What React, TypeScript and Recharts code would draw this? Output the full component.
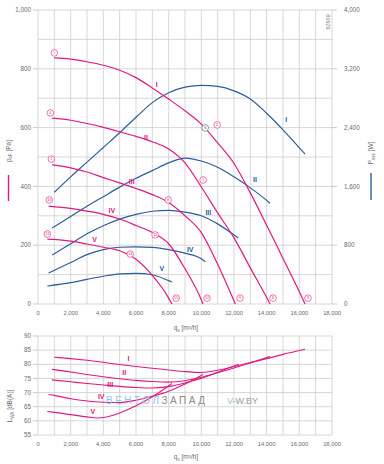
import { ComposedChart, LineChart, Line, XAxis, YAxis, CartesianGrid, ReferenceDot } from "recharts"

const PINK = "#e2187f"
const BLUE = "#2c5d9c"
const GRID = "#cdcdcd"
const TXT = "#6a6a6a"
const FONT = "'Liberation Sans', Arial, sans-serif"

// axis ticks
const flowTicks = [0, 1000, 2000, 3000, 4000, 5000, 6000, 7000, 8000, 9000, 10000, 11000, 12000, 13000, 14000, 15000, 16000, 17000, 18000]
const pressTicks = [0, 100, 200, 300, 400, 500, 600, 700, 800, 900, 1000]
const powerTicks = [0, 400, 800, 1200, 1600, 2000, 2400, 2800, 3200, 3600, 4000]
const soundTicks = [55, 60, 65, 70, 75, 80, 85, 90]

const speeds = ["I", "II", "III", "IV", "V"]

// static pressure p_sF [Pa] over q_v [m3/h]
const pressI = [[1000, 837], [2000, 833], [3000, 824], [4000, 812], [5000, 795], [6000, 770], [7000, 735], [8000, 697], [9000, 657], [10000, 612], [11000, 548], [12000, 478], [13000, 378], [14000, 268], [15000, 155], [16000, 42], [16350, 0]]
const pressII = [[870, 632], [2000, 625], [3000, 614], [4000, 601], [5000, 586], [6000, 570], [7000, 552], [8000, 527], [9000, 480], [10000, 398], [11000, 310], [12000, 225], [13000, 123], [14000, 22], [14210, 0]]
const pressIII = [[870, 473], [2000, 463], [3000, 449], [4000, 430], [5000, 412], [6000, 393], [7000, 372], [8000, 345], [9000, 300], [10000, 243], [11000, 135], [12080, 0]]
const pressIV = [[650, 333], [2000, 325], [3000, 316], [4000, 305], [5000, 289], [6000, 267], [7000, 243], [8000, 205], [9000, 120], [10000, 14], [10100, 0]]
const pressV = [[570, 221], [1000, 220], [2000, 214], [3000, 204], [4000, 193], [5000, 181], [6000, 152], [7000, 97], [8000, 20], [8200, 0]]

// power input P_sys [W]
const powerI = [[1000, 1520], [2000, 1730], [3000, 1930], [4000, 2130], [5000, 2330], [6000, 2540], [7000, 2740], [8000, 2875], [9000, 2950], [10000, 2975], [11000, 2960], [12000, 2900], [13000, 2790], [14000, 2595], [15000, 2370], [16000, 2125], [16350, 2040]]
const powerII = [[870, 1034], [2000, 1190], [3000, 1330], [4000, 1460], [5000, 1590], [6000, 1710], [7000, 1815], [8000, 1920], [9000, 1985], [10000, 1945], [11000, 1860], [12000, 1730], [13000, 1580], [14000, 1410], [14210, 1370]]
const powerIII = [[870, 667], [2000, 820], [3000, 955], [4000, 1065], [5000, 1155], [6000, 1220], [7000, 1262], [8000, 1275], [9000, 1250], [10000, 1200], [11000, 1090], [12000, 940], [12270, 898]]
const powerIV = [[650, 422], [2000, 565], [3000, 672], [4000, 740], [5000, 772], [6000, 778], [7000, 770], [8000, 740], [9000, 692], [10000, 615], [10240, 575]]
const powerV = [[570, 245], [2000, 290], [3000, 335], [4000, 378], [5000, 410], [6000, 418], [7000, 398], [8000, 318], [8200, 300]]

// sound power L_WA [dB(A)]
const soundI = [[1000, 82.5], [2000, 82.0], [3000, 81.4], [4000, 80.7], [5000, 79.9], [6000, 79.2], [7000, 78.6], [8000, 78.0], [9000, 77.4], [10000, 77.1], [11000, 77.9], [12000, 79.2], [13000, 80.6], [14000, 82.0], [15000, 83.5], [16350, 85.3]]
const soundII = [[850, 78.2], [2000, 77.3], [3000, 76.4], [4000, 75.6], [5000, 74.9], [6000, 74.3], [7000, 73.9], [8000, 73.7], [9000, 74.2], [10000, 75.4], [11000, 77.0], [12000, 78.7], [13000, 80.5], [14210, 82.7]]
const soundIII = [[850, 74.5], [2000, 73.8], [3000, 73.2], [4000, 72.7], [5000, 72.2], [6000, 71.8], [7000, 71.6], [8000, 72.1], [9000, 73.4], [10000, 75.1], [11000, 77.2], [12270, 80.0]]
const soundIV = [[650, 69.3], [1000, 69.0], [2000, 67.8], [3000, 67.0], [4000, 66.6], [5000, 66.5], [6000, 67.3], [7000, 68.7], [8000, 70.5], [9000, 73.0], [10100, 76.4]]
const soundV = [[570, 63.3], [1000, 63.0], [2000, 62.2], [3000, 61.4], [3600, 61.0], [4000, 61.2], [5000, 62.8], [6000, 65.3], [7000, 68.5], [8200, 73.2]]

// label positions (flow, value)
const pressLabelPos = [[7270, 745], [6610, 567], [5740, 416], [4520, 317], [3460, 218]]
const powerLabelPos = [[15190, 2512], [13290, 1687], [10430, 1242], [9320, 735], [7580, 485]]
const soundLabelPos = [[5540, 82.1], [5280, 77.0], [4420, 73.0], [3870, 68.6], [3360, 63.3]]

// operating points 1..15 (flow, pressure)
const pointPos = [[1000, 854], [10970, 609], [16530, 20], [760, 650], [10110, 422], [14390, 20], [820, 493], [7970, 354], [12370, 20], [690, 354], [7170, 235], [10350, 20], [570, 238], [5650, 170], [8460, 20]]
const designPoint = [10240, 599]

const pressSeries = [pressI, pressII, pressIII, pressIV, pressV]
const powerSeries = [powerI, powerII, powerIII, powerIV, powerV]
const soundSeries = [soundI, soundII, soundIII, soundIV, soundV]

const toPts = (arr: number[][]) => arr.map(([x, y]) => ({ x, y }))
const fmt = (v: number) => v.toLocaleString("en-US")

function XTick(props: any) {
  const { x, y, payload } = props
  if (payload.value % 2000 !== 0) return <g />
  return (
    <text x={x} y={y + 4} textAnchor="middle" fontSize={5.8} fill={TXT} fontFamily={FONT}>
      {fmt(payload.value)}
    </text>
  )
}

function LeftTick(props: any) {
  const { x, y, payload, step } = props
  if (payload.value % step !== 0) return <g />
  return (
    <g>
      <line x1={x + 2} x2={x + 7} y1={y} y2={y} stroke="#b5b5b5" strokeWidth={0.7} />
      <text x={x} y={y + 2.2} textAnchor="end" fontSize={6.3} fill={TXT} fontFamily={FONT}>
        {fmt(payload.value)}
      </text>
    </g>
  )
}

function RightTick(props: any) {
  const { x, y, payload } = props
  if (payload.value % 800 !== 0) return <g />
  return (
    <g>
      <line x1={x - 12} x2={x - 7} y1={y} y2={y} stroke="#b5b5b5" strokeWidth={0.7} />
      <text x={x} y={y + 2.2} textAnchor="start" fontSize={6.3} fill={TXT} fontFamily={FONT}>
        {fmt(payload.value)}
      </text>
    </g>
  )
}

const romanLabel = (value: string, color: string) => ({
  value,
  position: "center" as const,
  fontSize: 7,
  fontWeight: 700,
  fill: color,
  fontFamily: FONT,
})

export default function App() {
  return (
    <div style={{ position: "absolute", left: 0, top: 0, width: 384, height: 464, background: "#fff", fontFamily: FONT }}>
      <div style={{ position: "absolute", left: 0, top: 0 }}>
        <ComposedChart width={384} height={340} margin={{ top: 10, right: 0, bottom: 0, left: 0 }}>
          <CartesianGrid yAxisId="p" stroke={GRID} strokeWidth={0.8} />
          <XAxis type="number" dataKey="x" domain={[0, 18000]} ticks={flowTicks} interval={0} height={36}
            axisLine={false} tickLine={false} tickSize={5} tickMargin={2} tick={<XTick />} />
          <YAxis yAxisId="p" type="number" domain={[0, 1000]} ticks={pressTicks} interval={0} width={38}
            axisLine={false} tickLine={false} tickSize={5} tickMargin={2} tick={<LeftTick step={200} />} />
          <YAxis yAxisId="w" orientation="right" type="number" domain={[0, 4000]} ticks={powerTicks} interval={0} width={52}
            axisLine={false} tickLine={false} tickSize={5} tickMargin={7} tick={<RightTick />} />
          {powerSeries.map((s, i) => (
            <Line key={"w" + i} yAxisId="w" data={toPts(s)} dataKey="y" type="monotone" stroke={BLUE}
              strokeWidth={1.2} dot={false} isAnimationActive={false} />
          ))}
          {pressSeries.map((s, i) => (
            <Line key={"p" + i} yAxisId="p" data={toPts(s)} dataKey="y" type="monotone" stroke={PINK}
              strokeWidth={1.2} dot={false} isAnimationActive={false} />
          ))}
          {pressLabelPos.map(([x, y], i) => (
            <ReferenceDot key={"pl" + i} yAxisId="p" x={x} y={y} r={1} fill="none" stroke="none"
              label={romanLabel(speeds[i], PINK)} />
          ))}
          {powerLabelPos.map(([x, y], i) => (
            <ReferenceDot key={"wl" + i} yAxisId="w" x={x} y={y} r={1} fill="none" stroke="none"
              label={romanLabel(speeds[i], BLUE)} />
          ))}
          {pointPos.map(([x, y], i) => (
            <ReferenceDot key={"op" + i} yAxisId="p" x={x} y={y} r={3.3} fill="#fff" stroke={PINK} strokeWidth={0.6}
              label={{ value: String(i + 1), position: "center", fontSize: 3.8, fill: PINK, fontFamily: FONT }} />
          ))}
          <ReferenceDot yAxisId="p" x={designPoint[0]} y={designPoint[1]} r={3.3} fill="#fff" stroke="#555" strokeWidth={0.6}
            label={{ value: "6", position: "center", fontSize: 3.8, fill: "#444", fontFamily: FONT }} />
        </ComposedChart>
      </div>

      <div style={{ position: "absolute", left: 0, top: 326 }}>
        <LineChart width={384} height={138} margin={{ top: 10, right: 52, bottom: 0, left: 0 }}>
          <CartesianGrid stroke={GRID} strokeWidth={0.8} />
          <XAxis type="number" dataKey="x" domain={[0, 18000]} ticks={flowTicks} interval={0} height={29}
            axisLine={false} tickLine={false} tickSize={5} tickMargin={2} tick={<XTick />} />
          <YAxis type="number" domain={[55, 90]} ticks={soundTicks} interval={0} width={38}
            axisLine={false} tickLine={false} tickSize={5} tickMargin={2} tick={<LeftTick step={5} />} />
          {soundSeries.map((s, i) => (
            <Line key={"s" + i} data={toPts(s)} dataKey="y" type="monotone" stroke={PINK}
              strokeWidth={1.1} dot={false} isAnimationActive={false} />
          ))}
          {soundLabelPos.map(([x, y], i) => (
            <ReferenceDot key={"sl" + i} x={x} y={y} r={1} fill="none" stroke="none"
              label={romanLabel(speeds[i], PINK)} />
          ))}
        </LineChart>
      </div>

      <svg width={384} height={464} style={{ position: "absolute", left: 0, top: 0, pointerEvents: "none" }}>
        <g fontFamily={FONT} fill={TXT}>
          <text transform="translate(10.5,151) rotate(-90)" textAnchor="middle" fontSize={6.5}>
            p<tspan fontSize={4.5} dy={1.5}>sF</tspan><tspan dy={-1.5}> [Pa]</tspan>
          </text>
          <line x1={8.5} x2={8.5} y1={175} y2={201} stroke={PINK} strokeWidth={1.4} />
          <text transform="translate(373,153) rotate(-90)" textAnchor="middle" fontSize={6.5}>
            P<tspan fontSize={4.5} dy={1.5}>sys</tspan><tspan dy={-1.5}> [W]</tspan>
          </text>
          <line x1={371} x2={371} y1={173} y2={200} stroke={BLUE} strokeWidth={1.4} />
          <text transform="translate(12,406) rotate(-90)" textAnchor="middle" fontSize={6.5}>
            L<tspan fontSize={4.5} dy={1.5}>WA</tspan><tspan dy={-1.5}> [dB(A)]</tspan>
          </text>
          <text x={186} y={330} textAnchor="middle" fontSize={6.5}>
            q<tspan fontSize={4.5} dy={1.5}>v</tspan><tspan dy={-1.5}> [m³/h]</tspan>
          </text>
          <text x={186} y={459} textAnchor="middle" fontSize={6.5}>
            q<tspan fontSize={4.5} dy={1.5}>v</tspan><tspan dy={-1.5}> [m³/h]</tspan>
          </text>
          <text transform="translate(326,22) rotate(90)" textAnchor="middle" fontSize={5.5} fill="#888">80929</text>
          <text x={106} y={404} fontSize={10} letterSpacing={2.5}>
            <tspan fill="#8dc2ec">ВЕНТОЛ</tspan><tspan fill="#8a8a8a">ЗАПАД</tspan>
          </text>
          <text x={227} y={404} fontSize={9}>
            <tspan fill="#8dc2ec">V</tspan><tspan fill="#9a9a9a">-W.BY</tspan>
          </text>
        </g>
      </svg>
    </div>
  )
}
